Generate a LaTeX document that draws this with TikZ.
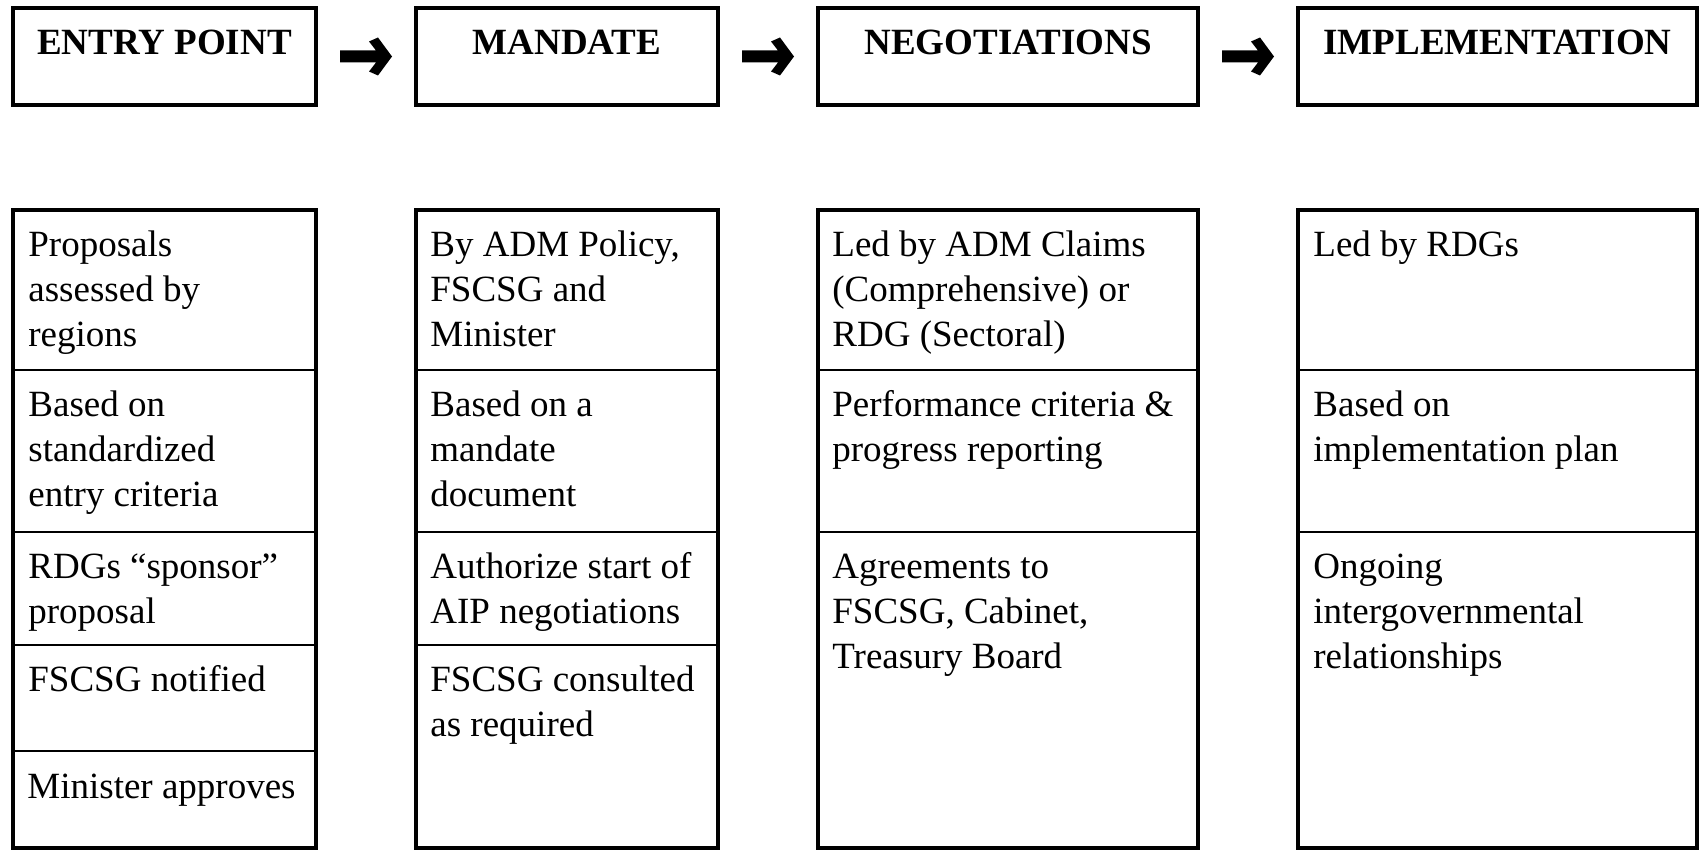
\documentclass[tikz,border=0pt]{standalone}
\usepackage{fontspec}
\setmainfont{Liberation Serif}
\usetikzlibrary{positioning}
\usetikzlibrary{calc}
\tikzset{
	every node/.style = {font=\fontsize{18.5}{22.5}\selectfont},
	titlebox/.style = {draw, line width=2pt, inner sep=0pt, outer sep=0pt, anchor=base,
		text height=23.5pt, text depth=25pt, font=\fontsize{18.5}{22.5}\selectfont\bfseries},
	cell/.style = {anchor=north west, inner sep=0pt, align=left},
	frame/.style = {line width=2pt},
	divider/.style = {line width=1.2pt},
	blockarrow/.pic = {\fill (-26,-6) -- (10,-6) -- (3,-15) -- (12,-19) -- (26,0)
		-- (12,19) -- (3,15) -- (10,6) -- (-26,6) -- cycle;}
}

\begin{document}
\begin{tikzpicture}[x=0.5pt, y=-0.5pt]
	\useasboundingbox (0,0) rectangle (1699,850);
	% stages
	\node[titlebox, minimum width=151.5pt] (entry) at (164.5,55) {ENTRY POINT};
	\node[titlebox, minimum width=151pt] (mandate) at (567,55) {MANDATE};
	\node[titlebox, minimum width=190pt] (negot) at (1008,55) {NEGOTIATIONS};
	\node[titlebox, minimum width=199.5pt] (implem) at (1497.5,55) {IMPLEMENTATION};
	
	\pic at ($(entry.east)!0.5!(mandate.west)$) {blockarrow};
	\pic at ($(mandate.east)!0.5!(negot.west)$) {blockarrow};
	\pic at ($(negot.east)!0.5!(implem.west)$) {blockarrow};
	
	% columns
	\foreach \l/\r in {13/316, 416/718, 818/1198, 1298/1697}
		\draw[frame] (\l,210) rectangle (\r,848);
	\foreach \y in {370, 532, 645, 751} \draw[divider] (13,\y) -- (316,\y);
	\foreach \y in {370, 532, 645} \draw[divider] (416,\y) -- (718,\y);
	\foreach \l/\r in {818/1198, 1298/1697} \foreach \y in {370, 532}
		\draw[divider] (\l,\y) -- (\r,\y);
	
	% entry point
	\node[cell] (ep1) at (28,224.5) {\strut Proposals\\assessed by\\regions};
	\node[cell] (ep2) at (28,384.5) {\strut Based on\\standardized\\entry criteria};
	\node[cell] (ep3) at (28,546.5) {\strut RDGs “sponsor”\\proposal};
	\node[cell] (ep4) at (28,659.5) {\strut FSCSG notified};
	\node[cell] (ep5) at (27,767) {\strut Minister approves};
	% mandate
	\node[cell] (md1) at (430,224.5) {\strut By ADM Policy,\\FSCSG and\\Minister};
	\node[cell] (md2) at (430,384.5) {\strut Based on a\\mandate\\document};
	\node[cell] (md3) at (430,546.5) {\strut Authorize start of\\AIP negotiations};
	\node[cell] (md4) at (430,659.5) {\strut FSCSG consulted\\as required};
	% negotiations
	\node[cell] (ng1) at (832,224.5) {\strut Led by ADM Claims\\(Comprehensive) or\\RDG (Sectoral)};
	\node[cell] (ng2) at (832,384.5) {\strut Performance criteria \&\\progress reporting};
	\node[cell] (ng3) at (832,546.5) {\strut Agreements to\\FSCSG, Cabinet,\\Treasury Board};
	% implementation
	\node[cell] (im1) at (1313,224.5) {\strut Led by RDGs};
	\node[cell] (im2) at (1313,384.5) {\strut Based on\\implementation plan};
	\node[cell] (im3) at (1313,546.5) {\strut Ongoing\\intergovernmental\\relationships};
\end{tikzpicture}
\end{document}
